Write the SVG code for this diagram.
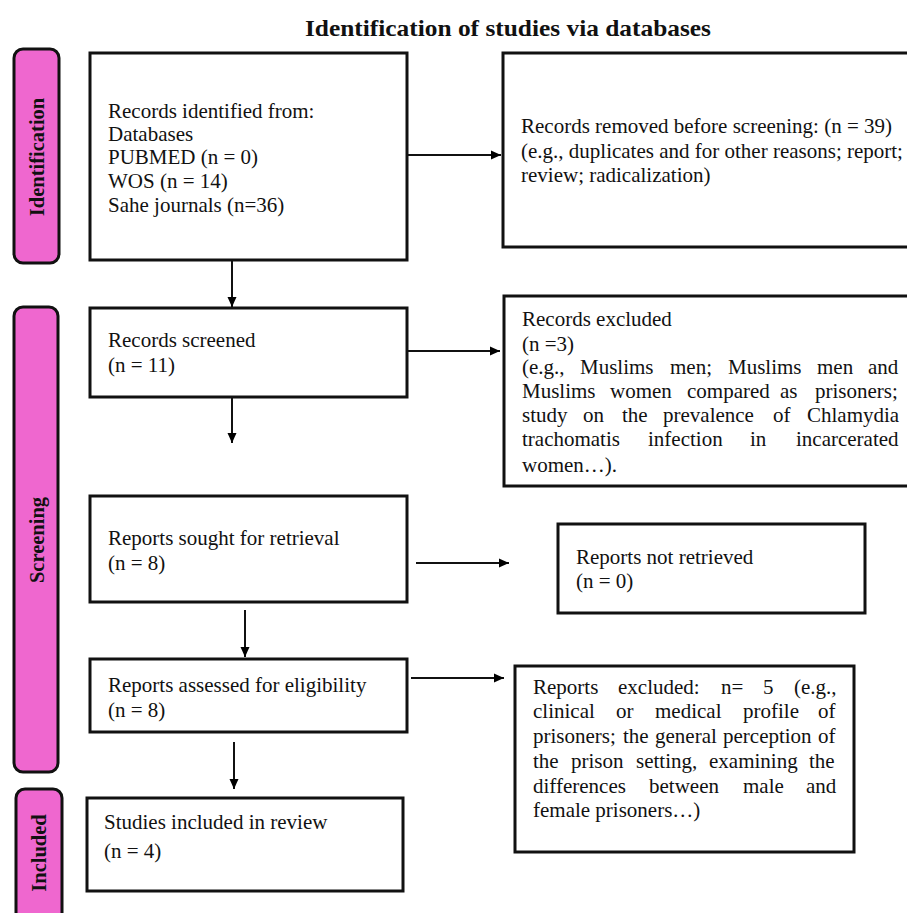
<svg xmlns="http://www.w3.org/2000/svg" width="907" height="913" viewBox="0 0 907 913">
<defs>
<marker id="ah" viewBox="0 0 10 10" refX="10" refY="5" markerWidth="10" markerHeight="10" markerUnits="userSpaceOnUse" orient="auto">
<path d="M0,0.5 L10,5 L0,9.5 Z" fill="#000"/>
</marker>
</defs>
<style>
.bg{fill:#fff}
.box{fill:#fff;stroke:#111;stroke-width:3}
.side{fill:#ef67cf;stroke:#111;stroke-width:3}
.t{font-family:"Liberation Serif","Times New Roman",serif;font-size:21px;fill:#111}
.st{font-family:"Liberation Serif","Times New Roman",serif;font-size:20.5px;font-weight:bold;fill:#111}
.ttl{font-family:"Liberation Serif","Times New Roman",serif;font-size:24px;font-weight:bold;fill:#111}
.c{stroke:#111;stroke-width:2;fill:none;marker-end:url(#ah)}
</style>
<rect class="bg" x="0" y="0" width="907" height="913"/>
<text class="ttl" x="508" y="36" text-anchor="middle" textLength="406" lengthAdjust="spacingAndGlyphs">Identification of studies via databases</text>

<g id="phase-identification">
<rect class="side" x="14" y="49" width="45" height="214" rx="9"/>
<text class="st" transform="translate(44,157) rotate(-90)" text-anchor="middle">Identification</text>
</g>
<g id="phase-screening">
<rect class="side" x="14" y="307" width="44" height="465" rx="9"/>
<text class="st" transform="translate(44,540) rotate(-90)" text-anchor="middle">Screening</text>
</g>
<g id="phase-included">
<rect class="side" x="16" y="789" width="46" height="140" rx="9"/>
<text class="st" transform="translate(46,853) rotate(-90)" text-anchor="middle">Included</text>
</g>

<g id="records-identified">
<rect class="box" x="90" y="53" width="317" height="207"/>
<text class="t" x="108" y="118">Records identified from:</text>
<text class="t" x="108" y="141">Databases</text>
<text class="t" x="108" y="164">PUBMED (n = 0)</text>
<text class="t" x="108" y="188">WOS (n = 14)</text>
<text class="t" x="108" y="212">Sahe journals (n=36)</text>
</g>

<g id="records-removed">
<rect class="box" x="503" y="53" width="420" height="194"/>
<text class="t" x="521" y="133">Records removed before screening: (n = 39)</text>
<text class="t" x="521" y="158">(e.g., duplicates and for other reasons; report;</text>
<text class="t" x="521" y="182">review; radicalization)</text>
</g>

<g id="records-screened">
<rect class="box" x="90" y="308" width="317" height="89"/>
<text class="t" x="108" y="347">Records screened</text>
<text class="t" x="108" y="372">(n = 11)</text>
</g>

<g id="records-excluded">
<rect class="box" x="504" y="296" width="420" height="190"/>
<text class="t" x="522" y="326">Records excluded</text>
<text class="t" x="522" y="351">(n =3)</text>
<text class="t" y="374"><tspan x="522">(e.g.,</tspan><tspan x="580">Muslims</tspan><tspan x="670">men;</tspan><tspan x="728">Muslims</tspan><tspan x="817">men</tspan><tspan x="868">and</tspan></text>
<text class="t" y="398"><tspan x="522">Muslims</tspan><tspan x="610">women</tspan><tspan x="687">compared</tspan><tspan x="780">as</tspan><tspan x="815">prisoners;</tspan></text>
<text class="t" y="422"><tspan x="522">study</tspan><tspan x="583">on</tspan><tspan x="622">the</tspan><tspan x="663">prevalence</tspan><tspan x="773">of</tspan><tspan x="807">Chlamydia</tspan></text>
<text class="t" y="446"><tspan x="522">trachomatis</tspan><tspan x="648">infection</tspan><tspan x="750">in</tspan><tspan x="796">incarcerated</tspan></text>
<text class="t" x="522" y="472">women…).</text>
</g>

<g id="reports-sought">
<rect class="box" x="90" y="496" width="317" height="106"/>
<text class="t" x="108" y="545">Reports sought for retrieval</text>
<text class="t" x="108" y="570">(n = 8)</text>
</g>

<g id="reports-not-retrieved">
<rect class="box" x="558" y="524" width="307" height="89"/>
<text class="t" x="576" y="564">Reports not retrieved</text>
<text class="t" x="576" y="588">(n = 0)</text>
</g>

<g id="reports-assessed">
<rect class="box" x="90" y="659" width="317" height="73"/>
<text class="t" x="108" y="692">Reports assessed for eligibility</text>
<text class="t" x="108" y="717">(n = 8)</text>
</g>

<g id="reports-excluded">
<rect class="box" x="515" y="666" width="339" height="186"/>
<text class="t" y="694"><tspan x="533">Reports</tspan><tspan x="618">excluded:</tspan><tspan x="721">n=</tspan><tspan x="763">5</tspan><tspan x="794">(e.g.,</tspan></text>
<text class="t" y="718"><tspan x="533">clinical</tspan><tspan x="616">or</tspan><tspan x="655">medical</tspan><tspan x="743">profile</tspan><tspan x="818">of</tspan></text>
<text class="t" y="743"><tspan x="533">prisoners;</tspan><tspan x="623">the</tspan><tspan x="655">general</tspan><tspan x="723">perception</tspan><tspan x="818">of</tspan></text>
<text class="t" y="768"><tspan x="533">the</tspan><tspan x="571">prison</tspan><tspan x="636">setting,</tspan><tspan x="709">examining</tspan><tspan x="809">the</tspan></text>
<text class="t" y="793"><tspan x="533">differences</tspan><tspan x="649">between</tspan><tspan x="743">male</tspan><tspan x="806">and</tspan></text>
<text class="t" x="533" y="817">female prisoners…)</text>
</g>

<g id="studies-included">
<rect class="box" x="87" y="798" width="316" height="93"/>
<text class="t" x="104" y="829">Studies included in review</text>
<text class="t" x="104" y="858">(n = 4)</text>
</g>

<g id="connectors">
<line class="c" x1="232" y1="260" x2="232" y2="307"/>
<line class="c" x1="407" y1="155" x2="501" y2="155"/>
<line class="c" x1="232" y1="397" x2="232" y2="443"/>
<line class="c" x1="407" y1="351" x2="500" y2="351"/>
<line class="c" x1="416" y1="563" x2="509" y2="563"/>
<line class="c" x1="245" y1="610" x2="245" y2="657"/>
<line class="c" x1="411" y1="678" x2="504" y2="678"/>
<line class="c" x1="234" y1="742" x2="234" y2="789"/>
</g>
</svg>
